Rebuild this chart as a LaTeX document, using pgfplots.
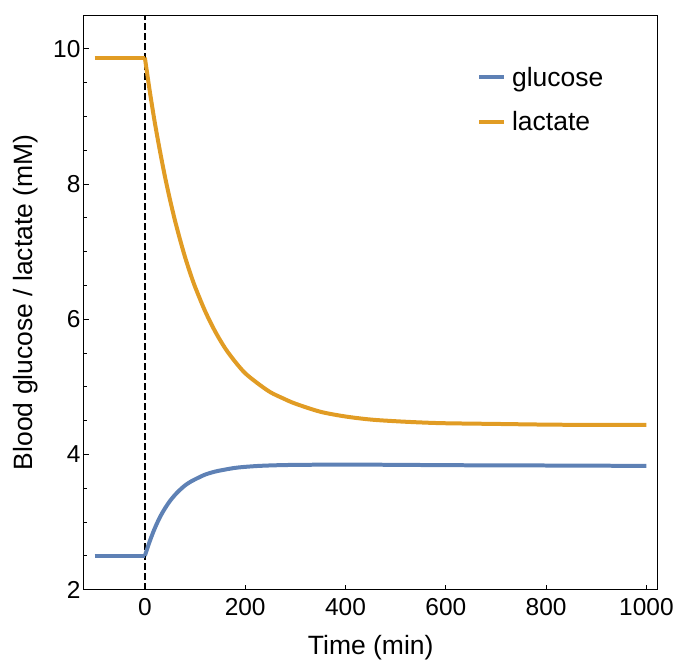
\documentclass[border=0pt]{standalone}
\usepackage{pgfplots}
\pgfplotsset{compat=1.18}
\usepackage{fontspec}
\setmainfont{Liberation Sans}
\definecolor{mblue}{rgb}{0.368417,0.506779,0.709798}
\definecolor{morange}{rgb}{0.880722,0.611041,0.142051}
\newcommand\bigf{\fontsize{24.5bp}{29bp}\selectfont}
\newcommand\labf{\fontsize{26.5bp}{31bp}\selectfont}
\begin{document}
\begin{tikzpicture}
\begin{axis}[
  scale only axis,
  width=574bp, height=575bp,
  xmin=-121.5, xmax=1022, ymin=2, ymax=10.5,
  xtick={0,200,400,600,800,1000},
  ytick={2,4,6,8,10},
  minor y tick num=3,
  xtick pos=bottom, ytick pos=left,
  tick align=inside,
  major tick length=5bp, minor tick length=3bp,
  every tick/.style={black, line width=0.8bp},
  axis line style={black, line width=0.9bp},
  /pgf/number format/assume math mode=true,
  /pgf/number format/1000 sep={},
  ticklabel style={font=\bigf},
  xticklabel style={yshift=-5bp},
  label style={font=\labf},
  xlabel={Time (min)},
  ylabel={Blood glucose / lactate (mM)},
  xlabel style={yshift=-13bp},
  ylabel style={yshift=8bp},
  legend style={draw=none, fill=none, font=\labf, at={(0.68,0.917)}, anchor=north west,
    row sep=20bp, cells={anchor=west}},
  legend cell align=left,
  legend image code/.code={\draw[#1] (0bp,0bp) -- (25bp,0bp); \path (29bp,0bp);},
]
\addplot[black, line width=2.4bp, dash pattern=on 7bp off 3bp, forget plot] coordinates {(0,2) (0,10.5)};
\addplot[mblue, line width=4bp, forget plot] coordinates {(-100,2.5) (0,2.5)};
\addplot[morange, line width=4bp, forget plot] coordinates {(-100,9.87) (0,9.87)};
\addplot[mblue, line width=4bp, smooth] coordinates {
(0,2.5) (10,2.72) (20,2.91) (30,3.07) (40,3.20) (50,3.31) (60,3.40) (70,3.475)
(80,3.54) (90,3.59) (100,3.63) (120,3.70) (140,3.745) (160,3.775) (180,3.80) (200,3.815)
(225,3.828) (250,3.836) (275,3.841) (300,3.844) (350,3.847) (400,3.848) (450,3.847) (500,3.845) (600,3.84) (700,3.837) (800,3.835) (900,3.832) (1000,3.83)};
\addlegendentry{glucose}
\addplot[morange, line width=4bp, smooth] coordinates {
(0,9.87) (10,9.36) (20,8.90) (30,8.49) (40,8.11) (50,7.77) (60,7.46) (70,7.18)
(80,6.92) (90,6.69) (100,6.48) (120,6.12) (140,5.82) (160,5.57) (180,5.37) (200,5.20)
(225,5.05) (250,4.92) (275,4.83) (300,4.75) (350,4.63) (400,4.56) (450,4.515) (500,4.49) (550,4.472) (600,4.46)
(700,4.45) (800,4.44) (900,4.435) (1000,4.435)};
\addlegendentry{lactate}
\end{axis}
\path (current axis.south west) ++(-84bp,-74bp) rectangle ++(677bp,664bp);
\end{tikzpicture}
\end{document}
